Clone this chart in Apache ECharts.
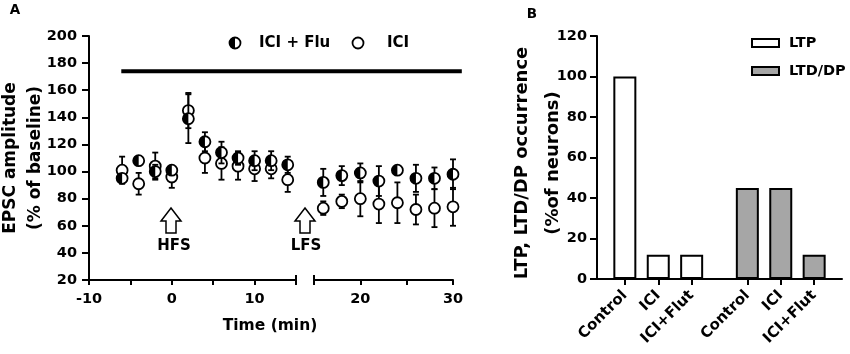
<!DOCTYPE html>
<html>
<head>
<meta charset="utf-8">
<script src="https://cdn.jsdelivr.net/npm/echarts@6.0.0/dist/echarts.min.js"></script>
<style>
  html, body { margin: 0; padding: 0; background: #fff; }
  #chart { width: 850px; height: 354px; }
</style>
</head>
<body>
<div id="chart"></div>
<script>
// panel A: time points (min) before / after the axis break
var timeLeft = [-6, -4, -2, 0, 2, 4, 6, 8, 10, 12, 14];
var timeRight = [16, 18, 20, 22, 24, 26, 28, 30];
// ICI + Flu (half filled circles), mean and error
var fluMeanLeft = [95, 108, 100, 101, 139, 122, 114, 110, 108, 108, 105];
var fluErrLeft = [3, 2, 5, 2, 18, 7, 8, 5, 7, 7, 6];
var fluMeanRight = [92, 97, 99, 93, 101, 95, 95, 98];
var fluErrRight = [10, 7, 7, 11, 3, 10, 8, 11];
// ICI (open circles)
var iciMeanLeft = [101, 91, 104, 96, 145, 110, 106, 104, 102, 102, 94];
var iciErrLeft = [10, 8, 10, 8, 13, 11, 12, 10, 9, 7, 9];
var iciMeanRight = [73, 78, 80, 76, 77, 72, 73, 74];
var iciErrRight = [5, 5, 13, 14, 15, 11, 14, 14];
// drug application bar: start, end (min), level
var drugBar = [-6.1, 30.95, 174];

// panel B
var groups = ['Control', 'ICI', 'ICI+Flut'];
var ltpValues = [100, 12, 12];
var ltdValues = [45, 45, 12];

var FONT = "'DejaVu Sans', sans-serif";
var NSLOT = 22;
var ltpSlots = [2, 5, 8];
var ltdSlots = [13, 16, 19];
var R = 5.5; // marker radius

// 22 narrow category slots so that the two bar groups get the gap of the original
var slotNames = [];
var ltpData = [];
var ltdData = [];
for (var i = 0; i < NSLOT; i++) {
    slotNames.push('');
    ltpData.push('-');
    ltdData.push('-');
}
groups.forEach(function (g, k) {
    slotNames[ltpSlots[k]] = g;
    slotNames[ltdSlots[k]] = g;
    ltpData[ltpSlots[k]] = ltpValues[k];
    ltdData[ltdSlots[k]] = ltdValues[k];
});
function isLabelled(idx) {
    return ltpSlots.indexOf(idx) >= 0 || ltdSlots.indexOf(idx) >= 0;
}

function zip(t, m, e) {
    return t.map(function (x, k) { return [x, m[k], e[k]]; });
}

function blackLine(w) {
    return { stroke: '#000', lineWidth: w };
}

function marker(cx, cy, half) {
    var kids = [{ type: 'circle', shape: { cx: cx, cy: cy, r: R }, style: { fill: '#fff', stroke: '#000', lineWidth: 1.8 } }];
    if (half) {
        kids.push({ type: 'sector', shape: { cx: cx, cy: cy, r0: 0, r: R, startAngle: Math.PI / 2, endAngle: Math.PI * 1.5 }, style: { fill: '#000' } });
    }
    return kids;
}

// error bar + circle, optionally left half filled
function pointRenderer(half) {
    return function (params, api) {
        var t = api.value(0), m = api.value(1), e = api.value(2);
        var c = api.coord([t, m]);
        var hi = api.coord([t, m + e])[1];
        var lo = api.coord([t, m - e])[1];
        var kids = [
            { type: 'line', shape: { x1: c[0], y1: hi, x2: c[0], y2: lo }, style: blackLine(1.8) },
            { type: 'line', shape: { x1: c[0] - 3, y1: hi, x2: c[0] + 3, y2: hi }, style: blackLine(1.8) },
            { type: 'line', shape: { x1: c[0] - 3, y1: lo, x2: c[0] + 3, y2: lo }, style: blackLine(1.8) }
        ].concat(marker(c[0], c[1], half));
        return { type: 'group', children: kids };
    };
}

var tickFont = { color: '#000', fontFamily: FONT, fontWeight: 'bold', fontSize: 14.5 };
function axisLineStyle() {
    return { show: true, onZero: false, lineStyle: { color: '#000', width: 2 } };
}

function timeAxis(grid, min, max) {
    return {
        gridIndex: grid, type: 'value', min: min, max: max, interval: 5,
        axisLine: axisLineStyle(),
        axisTick: { show: true, length: 5, lineStyle: { color: '#000', width: 2 } },
        axisLabel: Object.assign({
            margin: 12,
            formatter: function (v) { return v % 10 === 0 ? String(v) : ''; }
        }, tickFont),
        splitLine: { show: false }
    };
}

var chart = echarts.init(document.getElementById('chart'));

chart.setOption({
    animation: false,
    backgroundColor: '#fff',
    grid: [
        { left: 89, top: 36, width: 207, height: 244 },
        { left: 314, top: 36, width: 139, height: 244 },
        { left: 597, top: 36, width: 245, height: 243 }
    ],
    xAxis: [
        timeAxis(0, -10, 15),
        timeAxis(1, 15, 30),
        {
            gridIndex: 2, type: 'category', data: slotNames, boundaryGap: true,
            axisLine: axisLineStyle(),
            axisTick: { show: true, alignWithLabel: true, length: 6, interval: function (idx) { return isLabelled(idx); }, lineStyle: { color: '#000', width: 2 } },
            axisLabel: {
                interval: function (idx) { return isLabelled(idx); },
                rotate: 45, margin: 14, padding: [24, 0, 0, 0],
                color: '#000', fontFamily: FONT, fontWeight: 'bold', fontSize: 15
            },
            splitLine: { show: false }
        }
    ],
    yAxis: [
        {
            gridIndex: 0, type: 'value', min: 20, max: 200, interval: 20,
            axisLine: axisLineStyle(),
            axisTick: { show: true, length: 7, lineStyle: { color: '#000', width: 2 } },
            axisLabel: Object.assign({ margin: 12 }, tickFont),
            splitLine: { show: false }
        },
        { gridIndex: 1, type: 'value', min: 20, max: 200, show: false, splitLine: { show: false } },
        {
            gridIndex: 2, type: 'value', min: 0, max: 120, interval: 20,
            axisLine: axisLineStyle(),
            axisTick: { show: true, length: 7, lineStyle: { color: '#000', width: 2 } },
            axisLabel: Object.assign({ margin: 10 }, tickFont),
            splitLine: { show: false }
        }
    ],
    legend: {
        data: ['LTP', 'LTD/DP'],
        orient: 'vertical', left: 746, top: 29, icon: 'rect',
        itemWidth: 27, itemHeight: 8, itemGap: 10,
        textStyle: { color: '#000', fontFamily: FONT, fontWeight: 'bold', fontSize: 14.5, lineHeight: 18, padding: [0, 0, 0, 5] }
    },
    series: [
        { type: 'custom', name: 'ICI', xAxisIndex: 0, yAxisIndex: 0, renderItem: pointRenderer(false), data: zip(timeLeft, iciMeanLeft, iciErrLeft) },
        { type: 'custom', name: 'ICI', xAxisIndex: 1, yAxisIndex: 1, renderItem: pointRenderer(false), data: zip(timeRight, iciMeanRight, iciErrRight) },
        { type: 'custom', name: 'ICI + Flu', xAxisIndex: 0, yAxisIndex: 0, renderItem: pointRenderer(true), data: zip(timeLeft, fluMeanLeft, fluErrLeft) },
        { type: 'custom', name: 'ICI + Flu', xAxisIndex: 1, yAxisIndex: 1, renderItem: pointRenderer(true), data: zip(timeRight, fluMeanRight, fluErrRight) },
        {
            type: 'bar', name: 'LTP', xAxisIndex: 2, yAxisIndex: 2, data: ltpData,
            barWidth: 23, barGap: '-100%',
            itemStyle: { color: '#fff', borderColor: '#000', borderWidth: 2 }
        },
        {
            type: 'bar', name: 'LTD/DP', xAxisIndex: 2, yAxisIndex: 2, data: ltdData,
            barWidth: 23, barGap: '-100%',
            itemStyle: { color: '#a6a6a6', borderColor: '#000', borderWidth: 2 }
        }
    ]
});

// annotations
function textEl(text, x, y, size, opts) {
    opts = opts || {};
    var el = {
        type: 'text', x: x, y: y,
        style: {
            text: text, fill: '#000', fontFamily: FONT, fontWeight: 'bold', fontSize: size,
            align: opts.align || 'center', verticalAlign: 'middle'
        }
    };
    if (opts.lineHeight) el.style.lineHeight = opts.lineHeight;
    if (opts.rotation) el.rotation = opts.rotation;
    return el;
}
function blockArrow(cx, tip) {
    return {
        type: 'polygon',
        shape: { points: [[cx, tip], [cx + 10, tip + 13], [cx + 5, tip + 13], [cx + 5, tip + 25], [cx - 5, tip + 25], [cx - 5, tip + 13], [cx - 10, tip + 13]] },
        style: { fill: '#fff', stroke: '#000', lineWidth: 1.5 }
    };
}

var leftEnd = chart.convertToPixel({ xAxisIndex: 0, yAxisIndex: 0 }, [15, 20]);
var rightStart = chart.convertToPixel({ xAxisIndex: 1, yAxisIndex: 1 }, [15, 20]);
var barA = chart.convertToPixel({ xAxisIndex: 0, yAxisIndex: 0 }, [drugBar[0], drugBar[2]]);
var barB = chart.convertToPixel({ xAxisIndex: 1, yAxisIndex: 1 }, [drugBar[1], drugBar[2]]);

chart.setOption({
    graphic: [
        textEl('A', 15, 10, 13.5),
        textEl('B', 532, 14, 13.5),
        textEl('Time (min)', 270, 326, 15.5),
        textEl('EPSC amplitude\n(% of baseline)', 23, 158, 17, { rotation: Math.PI / 2, lineHeight: 25 }),
        textEl('LTP, LTD/DP occurrence\n(%of neurons)', 538, 163, 18, { rotation: Math.PI / 2, lineHeight: 31 }),
        blockArrow(171, 208),
        blockArrow(305, 208),
        textEl('HFS', 174, 246, 15),
        textEl('LFS', 306, 246, 15),
        { type: 'group', children: marker(235, 43, true) },
        textEl('ICI + Flu', 259, 43, 15, { align: 'left' }),
        { type: 'group', children: marker(358, 43, false) },
        textEl('ICI', 387, 43, 15, { align: 'left' }),
        { type: 'line', shape: { x1: leftEnd[0], y1: leftEnd[1] - 5, x2: leftEnd[0], y2: leftEnd[1] + 5 }, style: blackLine(2) },
        { type: 'line', shape: { x1: rightStart[0], y1: rightStart[1] - 5, x2: rightStart[0], y2: rightStart[1] + 5 }, style: blackLine(2) },
        { type: 'line', shape: { x1: barA[0], y1: barA[1], x2: barB[0], y2: barB[1] }, style: blackLine(4) }
    ]
});
</script>
</body>
</html>
